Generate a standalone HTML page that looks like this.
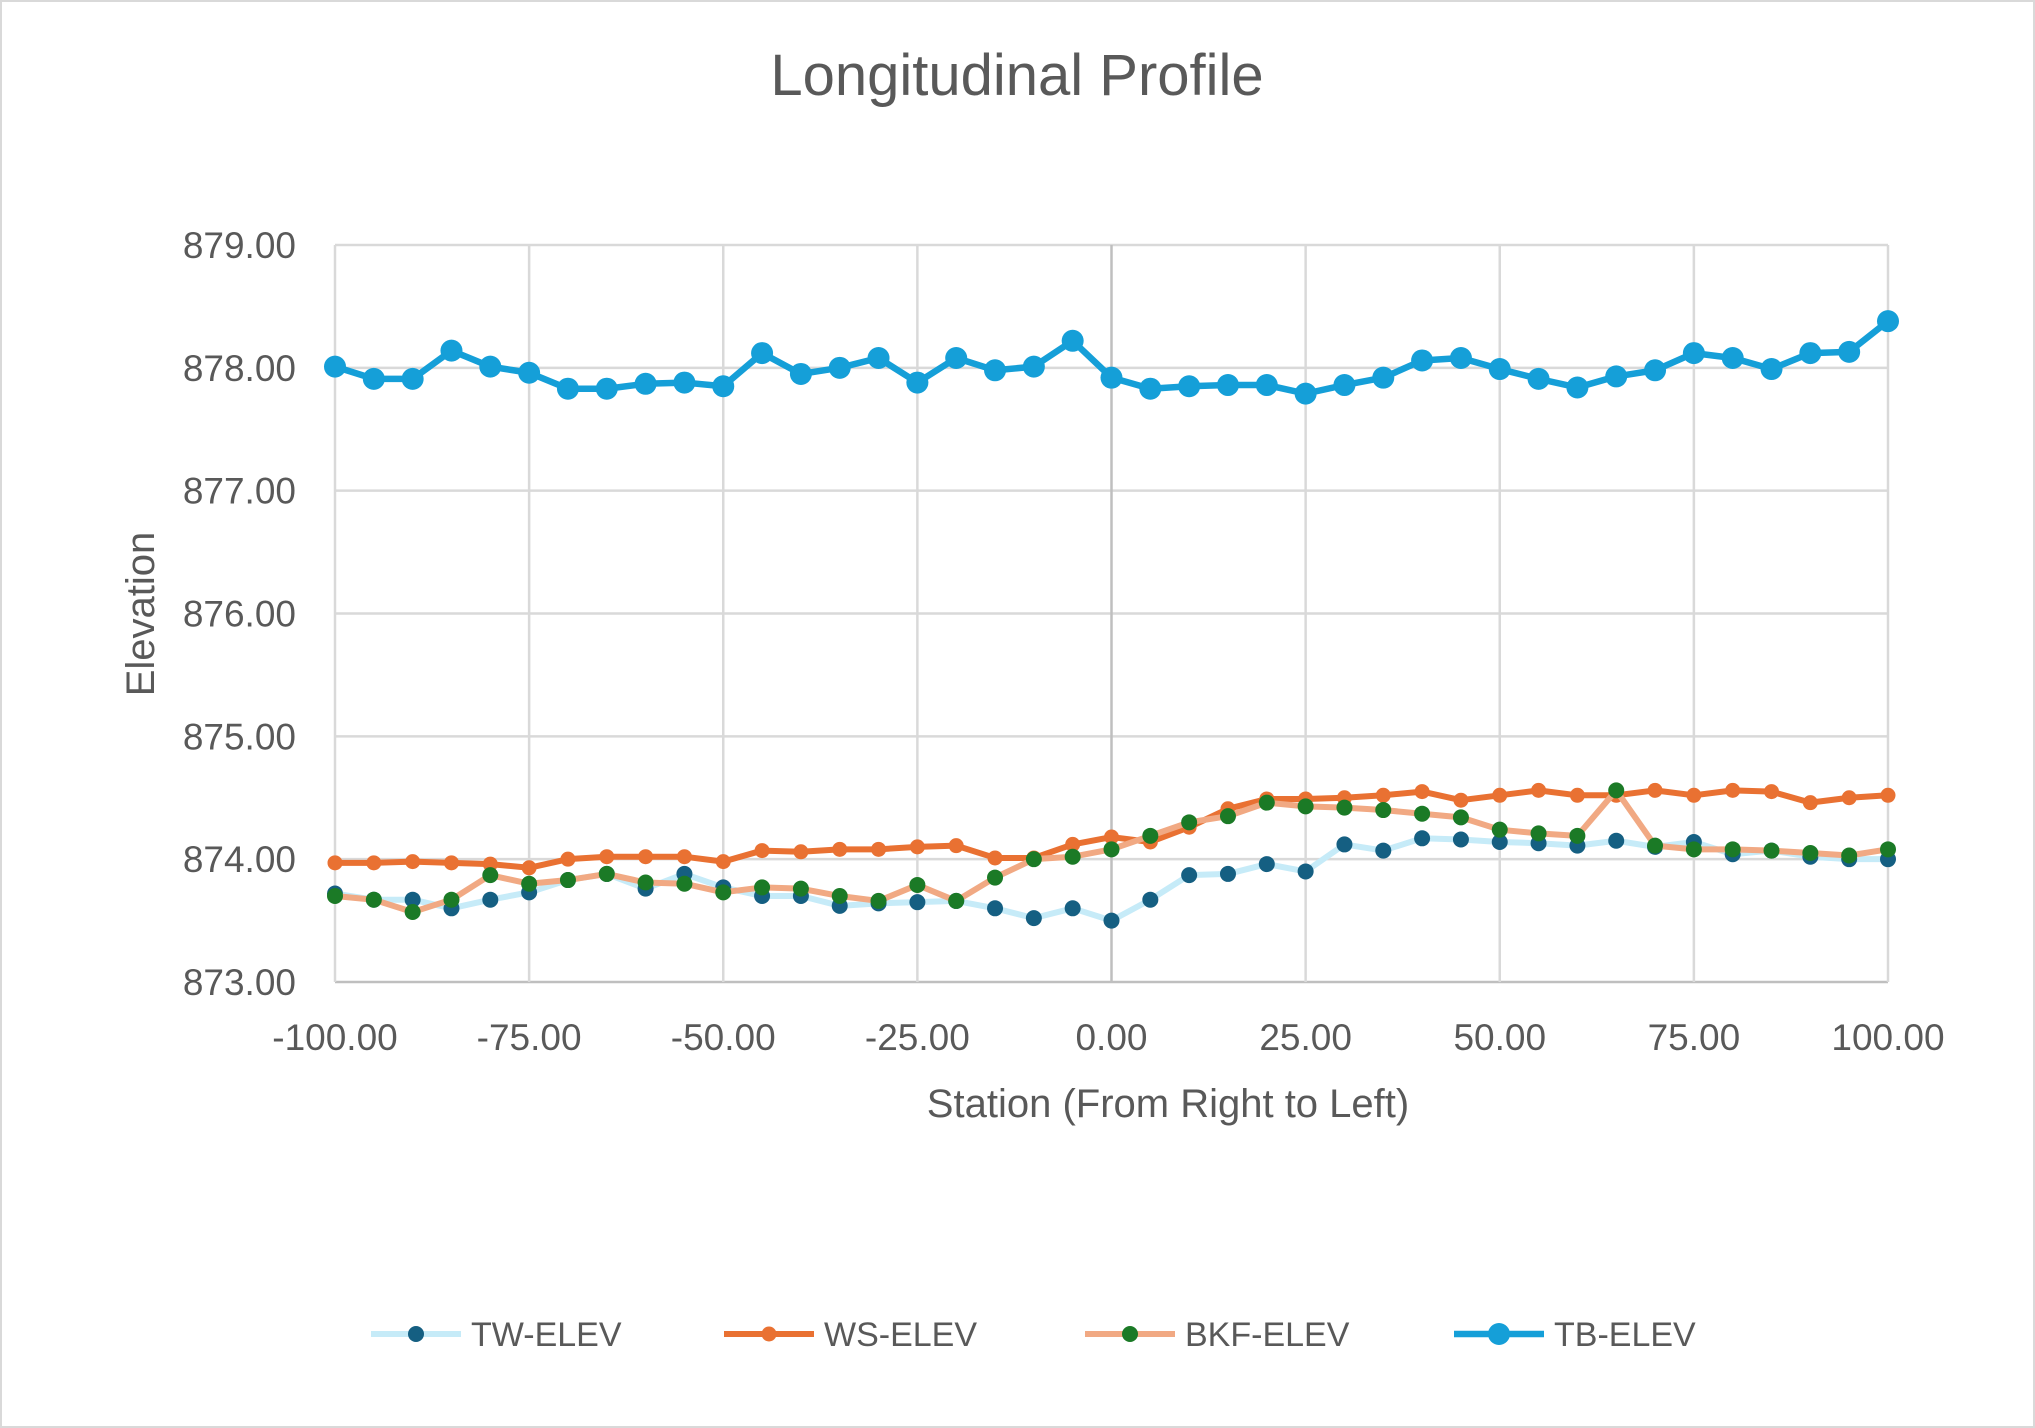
<!DOCTYPE html>
<html><head><meta charset="utf-8"><style>
html,body{margin:0;padding:0;background:#fff}
svg{display:block}
text{font-family:"Liberation Sans",sans-serif;fill:#595959}
</style></head><body>
<svg id="chart" width="2035" height="1428" viewBox="0 0 2035 1428" xmlns="http://www.w3.org/2000/svg">
<rect x="1" y="1" width="2033" height="1426" fill="#fff" stroke="#d9d9d9" stroke-width="2"/>
<text x="1017" y="95" font-size="58" text-anchor="middle">Longitudinal Profile</text>
<g id="grid"></g>
<g id="axes"></g>
<g id="series"></g>
<text x="1168" y="1117" font-size="40" text-anchor="middle">Station (From Right to Left)</text>
<text x="0" y="0" font-size="40" text-anchor="middle" transform="translate(154,614) rotate(-90)">Elevation</text>
<g id="legend"></g>
</svg>
<script>
const stations = [-100,-95,-90,-85,-80,-75,-70,-65,-60,-55,-50,-45,-40,-35,-30,-25,-20,-15,-10,-5,0,5,10,15,20,25,30,35,40,45,50,55,60,65,70,75,80,85,90,95,100];
const twElev = [873.72,873.67,873.67,873.60,873.67,873.73,873.83,873.88,873.76,873.88,873.77,873.70,873.70,873.62,873.64,873.65,873.66,873.60,873.52,873.60,873.50,873.67,873.87,873.88,873.96,873.90,874.12,874.07,874.17,874.16,874.14,874.13,874.11,874.15,874.10,874.14,874.04,874.07,874.02,874.00,874.00];
const wsElev = [873.97,873.97,873.98,873.97,873.96,873.93,874.00,874.02,874.02,874.02,873.98,874.07,874.06,874.08,874.08,874.10,874.11,874.01,874.01,874.12,874.18,874.14,874.26,874.41,874.49,874.49,874.50,874.52,874.55,874.48,874.52,874.56,874.52,874.52,874.56,874.52,874.56,874.55,874.46,874.50,874.52];
const bkfElev = [873.70,873.67,873.57,873.67,873.87,873.80,873.83,873.88,873.81,873.80,873.73,873.77,873.76,873.70,873.66,873.79,873.66,873.85,874.00,874.02,874.08,874.19,874.30,874.35,874.46,874.43,874.42,874.40,874.37,874.34,874.24,874.21,874.19,874.56,874.11,874.08,874.08,874.07,874.05,874.03,874.08];
const tbElev = [878.01,877.91,877.91,878.14,878.01,877.96,877.83,877.83,877.87,877.88,877.85,878.12,877.95,878.00,878.08,877.88,878.08,877.98,878.01,878.22,877.92,877.83,877.85,877.86,877.86,877.79,877.86,877.92,878.06,878.08,877.99,877.91,877.84,877.93,877.98,878.12,878.08,877.99,878.12,878.13,878.38];
const xTicks = [-100,-75,-50,-25,0,25,50,75,100];
const yTicks = [873,874,875,876,877,878,879];

const NS="http://www.w3.org/2000/svg";
const L=335,R=1888,T=245,B=982;
const X=v=>L+(v+100)/200*(R-L);
const Y=v=>B-(v-873)/6*(B-T);
function mk(tag,attrs,parent){const e=document.createElementNS(NS,tag);for(const k in attrs)e.setAttribute(k,attrs[k]);parent.appendChild(e);return e;}
const grid=document.getElementById('grid'),axes=document.getElementById('axes'),ser=document.getElementById('series'),leg=document.getElementById('legend');
yTicks.forEach(t=>{
  const ln=mk('line',{x1:L,x2:R,y1:Y(t),y2:Y(t),stroke:t===873?'#bfbfbf':'#d9d9d9','stroke-width':2.5},grid);
  
  
  const tx=mk('text',{x:296,y:Y(t)+13,'font-size':37,'text-anchor':'end'},axes);
  tx.textContent=t.toFixed(2);
  
  
});
xTicks.forEach(t=>{
  const ln=mk('line',{x1:X(t),x2:X(t),y1:T,y2:B,stroke:t===0?'#bfbfbf':'#d9d9d9','stroke-width':2.5},grid);
  
  
  const tx=mk('text',{x:X(t),y:1050,'font-size':37,'text-anchor':'middle'},axes);
  tx.textContent=t.toFixed(2);
  
  
});
const cfg=[
  {name:'TW-ELEV',data:twElev,line:'#c6ebf8',lw:6,mk:'#155f82',r:8},
  {name:'WS-ELEV',data:wsElev,line:'#e97132',lw:6,mk:'#e97132',r:7.5},
  {name:'BKF-ELEV',data:bkfElev,line:'#f1a983',lw:6,mk:'#1b7a26',r:8},
  {name:'TB-ELEV',data:tbElev,line:'#159fd8',lw:6.5,mk:'#159fd8',r:11}
];
cfg.forEach(s=>{
  const g=mk('g',{},ser);
  
  
  const pts=stations.map((x,i)=>X(x)+','+Y(s.data[i])).join(' ');
  const pl=mk('polyline',{points:pts,fill:'none',stroke:s.line,'stroke-width':s.lw,'stroke-linejoin':'round'},g);
  
  
  stations.forEach((x,i)=>{
    const c=mk('circle',{cx:X(x),cy:Y(s.data[i]),r:s.r,fill:s.mk},g);
    
    
  });
});
const legX=[371,724,1085,1454];
cfg.forEach((s,i)=>{
  const x0=legX[i];
  const g=mk('g',{},leg);
  
  
  mk('line',{x1:x0,x2:x0+90,y1:1334,y2:1334,stroke:s.line,'stroke-width':s.lw},g);
  mk('circle',{cx:x0+45,cy:1334,r:s.r,fill:s.mk},g);
  const t=mk('text',{x:x0+100,y:1346,'font-size':34},g);
  t.textContent=s.name;
});
</script>
</body></html>
